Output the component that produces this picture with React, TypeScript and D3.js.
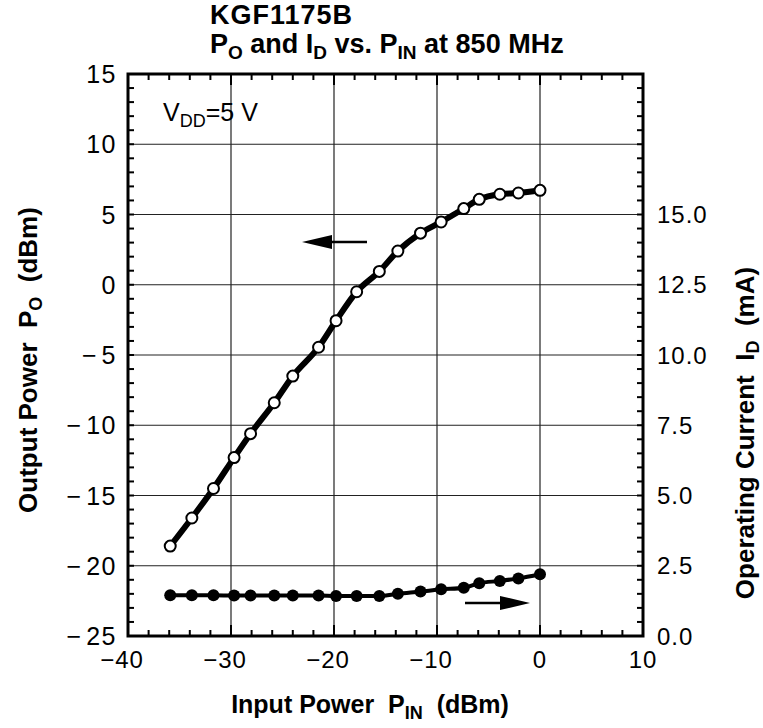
import React from "react";
import * as d3 from "d3";

const pinValues = [-35.9, -33.8, -31.7, -29.7, -28.1, -25.8, -24.0, -21.5, -19.8, -17.8, -15.6, -13.8, -11.6, -9.6, -7.4, -5.9, -3.9, -2.1, 0];
const poValues = [-18.6, -16.6, -14.5, -12.3, -10.6, -8.4, -6.5, -4.45, -2.56, -0.5, 0.95, 2.4, 3.67, 4.47, 5.42, 6.08, 6.44, 6.53, 6.72];
const idValues = [1.45, 1.45, 1.45, 1.44, 1.44, 1.44, 1.44, 1.44, 1.42, 1.42, 1.42, 1.5, 1.58, 1.66, 1.72, 1.88, 1.96, 2.05, 2.2];

const xTicks = [-40, -30, -20, -10, 0, 10];
const yLeftTicks = [15, 10, 5, 0, -5, -10, -15, -20, -25];
const yRightTicks = [0, 2.5, 5, 7.5, 10, 12.5, 15];

const W = 763, H = 728;
const L = 128, R = 643, T = 74, B = 636;
const FONT = "'Liberation Sans', Arial, Helvetica, sans-serif";

const fmtLeft = (v: number) => (v < 0 ? "\u2212\u200A" + Math.abs(v) : String(v));
const fmtBottom = (v: number) => (v < 0 ? "\u2212" + Math.abs(v) : String(v));

export default function App() {
  const x = d3.scaleLinear().domain([-40, 10]).range([L, R]);
  const yL = d3.scaleLinear().domain([-25, 15]).range([B, T]);
  const yR = d3.scaleLinear().domain([0, 20]).range([B, T]);

  const po = pinValues.map((p, i) => [p, poValues[i]] as [number, number]);
  const id = pinValues.map((p, i) => [p, idValues[i]] as [number, number]);

  const poLine = d3.line<[number, number]>().x(d => x(d[0])).y(d => yL(d[1])).curve(d3.curveMonotoneX);
  const idLine = d3.line<[number, number]>().x(d => x(d[0])).y(d => yR(d[1])).curve(d3.curveMonotoneX);

  const minorY = d3.range(-25, 15.01, 1);
  const minorX = d3.range(-40, 10.01, 2);
  const minorYR = d3.range(0, 20.01, 0.5);

  const arrowL = { x1: 367, x2: 302, y: 242 };
  const arrowR = { x1: 465, x2: 530, y: 603 };
  const pre = { whiteSpace: "pre" } as React.CSSProperties;

  return (
    <svg width={W} height={H} style={{ position: "absolute", left: 0, top: 0, background: "#fff" }} fontFamily={FONT}>
      <rect x={0} y={0} width={W} height={H} fill="#fff" />
      {/* Title */}
      <text x={210} y={24} fontSize={27} fontWeight="bold" fill="#000" letterSpacing={1}>KGF1175B</text>
      <text x={210} y={53} fontSize={27} fontWeight="bold" fill="#000">
        P<tspan fontSize={19} dy={6}>O</tspan>
        <tspan dy={-6}> and I</tspan><tspan fontSize={19} dy={6}>D</tspan>
        <tspan dy={-6}> vs. P</tspan><tspan fontSize={19} dy={6}>IN</tspan>
        <tspan dy={-6}> at 850 MHz</tspan>
      </text>

      {/* Grid */}
      {yLeftTicks.filter(v => v > -25 && v < 15).map(v => (
        <line key={"gy" + v} x1={L} x2={R} y1={yL(v)} y2={yL(v)} stroke="#222" strokeWidth={1.2} />
      ))}
      {xTicks.filter(v => v > -40 && v < 10).map(v => (
        <line key={"gx" + v} x1={x(v)} x2={x(v)} y1={T} y2={B} stroke="#222" strokeWidth={1.2} />
      ))}

      {/* Minor ticks */}
      {minorY.map(v => (
        <line key={"my" + v} x1={L} x2={L + 6} y1={yL(v)} y2={yL(v)} stroke="#000" strokeWidth={2} />
      ))}
      {minorYR.map(v => (
        <line key={"myr" + v} x1={R} x2={R - 6} y1={yR(v)} y2={yR(v)} stroke="#000" strokeWidth={2} />
      ))}
      {minorX.map(v => (
        <g key={"mx" + v}>
          <line x1={x(v)} x2={x(v)} y1={B} y2={B - (v % 10 === 0 ? 11 : 6)} stroke="#000" strokeWidth={2} />
          <line x1={x(v)} x2={x(v)} y1={T} y2={T + (v % 10 === 0 ? 11 : 6)} stroke="#000" strokeWidth={2} />
        </g>
      ))}

      {/* Frame */}
      <rect x={L} y={T} width={R - L} height={B - T} fill="none" stroke="#000" strokeWidth={3} />

      {/* Tick labels */}
      {yLeftTicks.map(v => (
        <text key={"yl" + v} x={117} y={yL(v)} dy="0.36em" textAnchor="end" fontSize={25} letterSpacing={1.5} fill="#000" style={pre}>{fmtLeft(v)}</text>
      ))}
      {yRightTicks.map(v => (
        <text key={"yr" + v} x={657} y={yR(v)} dy="0.36em" textAnchor="start" fontSize={24} letterSpacing={1} fill="#000">{v.toFixed(1)}</text>
      ))}
      {xTicks.map(v => (
        <text key={"xt" + v} x={x(v) - (v < 0 ? 6 : 0)} y={668} textAnchor="middle" fontSize={24} letterSpacing={1} fill="#000">{fmtBottom(v)}</text>
      ))}

      {/* Axis titles */}
      <text x={370} y={713} textAnchor="middle" fontSize={25} fontWeight="bold" fill="#000" style={pre}>
        Input Power  P<tspan fontSize={18} dy={6}>IN</tspan><tspan dy={-6}>  (dBm)</tspan>
      </text>
      <text transform={`translate(37,${360}) rotate(-90)`} textAnchor="middle" fontSize={26} fontWeight="bold" fill="#000" style={pre}>
        Output Power  P<tspan fontSize={18} dy={5}>O</tspan><tspan dy={-5}>  (dBm)</tspan>
      </text>
      <text transform={`translate(754,${433}) rotate(-90)`} textAnchor="middle" fontSize={26} fontWeight="bold" fill="#000" style={pre}>
        Operating Current  I<tspan fontSize={18} dy={5}>D</tspan><tspan dy={-5}>  (mA)</tspan>
      </text>

      {/* V_DD label */}
      <text x={163} y={121} fontSize={25} fill="#000" style={pre}>
        V<tspan fontSize={18} dy={6}>DD</tspan><tspan dy={-6}>=5 V</tspan>
      </text>

      {/* Lines */}
      <path d={poLine(po) || ""} fill="none" stroke="#000" strokeWidth={6} />
      <path d={idLine(id) || ""} fill="none" stroke="#000" strokeWidth={4} />
      {po.map((d, i) => (
        <circle key={"po" + i} cx={x(d[0])} cy={yL(d[1])} r={5.5} fill="#fff" stroke="#000" strokeWidth={2} />
      ))}
      {id.map((d, i) => (
        <circle key={"id" + i} cx={x(d[0])} cy={yR(d[1])} r={6} fill="#000" />
      ))}

      {/* Arrows */}
      <line x1={arrowL.x1} x2={arrowL.x2 + 20} y1={arrowL.y} y2={arrowL.y} stroke="#000" strokeWidth={2.5} />
      <path d={`M${arrowL.x2},${arrowL.y} L${arrowL.x2 + 30},${arrowL.y - 7} L${arrowL.x2 + 30},${arrowL.y + 7} Z`} fill="#000" />
      <line x1={arrowR.x1} x2={arrowR.x2 - 20} y1={arrowR.y} y2={arrowR.y} stroke="#000" strokeWidth={2.5} />
      <path d={`M${arrowR.x2},${arrowR.y} L${arrowR.x2 - 30},${arrowR.y - 7} L${arrowR.x2 - 30},${arrowR.y + 7} Z`} fill="#000" />
    </svg>
  );
}
